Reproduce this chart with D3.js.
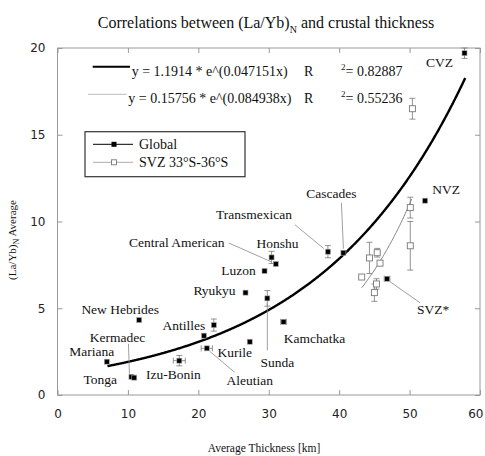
<!DOCTYPE html>
<html><head><meta charset="utf-8">
<script src="https://cdn.jsdelivr.net/npm/d3@7"></script>
<style>body{margin:0;background:#fff}</style>
</head><body>
<svg id="chart" width="485" height="456"></svg>
<script>
// ---- data ----
const globalNames = ["CVZ","NVZ","Transmexican","Cascades","Honshu","Central American","Luzon","Ryukyu","Sunda","Kamchatka","Antilles","","Kurile","Aleutian","New Hebrides","Izu-Bonin","Mariana","Kermadec","Tonga","SVZ*"];
const globalX = [57.8,52.2,38.4,40.6,30.4,31.0,29.4,26.7,29.8,32.1,22.2,20.8,27.3,21.2,11.6,17.3,7.0,10.5,10.9,46.8];
const globalY = [19.7,11.2,8.26,8.2,7.93,7.55,7.15,5.9,5.57,4.22,4.03,3.42,3.07,2.69,4.32,1.98,1.92,1.05,1.0,6.7];
const globalYErr = [0.3,0,0.35,0,0.35,0,0,0,0.45,0,0.35,0,0,0,0,0.3,0,0,0,0];
const globalXErr = [0,0,0,0,0,0,0,0,0,0.4,0,0,0,0.8,0,0.85,0,0,0,0.4];
const svzX = [50.4,50.1,50.1,44.3,45.4,45.8,43.2,45.3,45.0];
const svzY = [16.5,10.8,8.6,7.9,8.2,7.6,6.8,6.4,5.9];
const svzYErr = [0.6,0.6,1.4,0.9,0.25,0,0,0.3,0.5];
const fitGlobal = {a:1.1914, b:0.047151, from:7.1, to:57.9};
const fitSvz = {a:0.15756, b:0.084938, from:43.2, to:50.35};
const equations = ["y = 1.1914 * e^(0.047151x)","y = 0.15756 * e^(0.084938x)"];
const r2 = ["= 0.82887","= 0.55236"];
const xTicks = [0,10,20,30,40,50,60];
const yTicks = [0,5,10,15,20];
const legendNames = ["Global","SVZ 33°S-36°S"];
// label layout (pixel offsets from point): [dx,dy, leader x1,y1,x2,y2]
const labelLayout = [
 [-25,9],[21,-11],[-74,-37,-33,-27,-4,-3],[-12,-59,-2,-50,0,-4],[6,-14],[-99,-22,-47,-21,-4,-2],
 [-26,-1],[-31,-2],[10,64,0,5,0,52],[31,16],[-30,0],[0,0],[-15,11],[43,32,3,3,28,24],
 [-19,-11],[-6,14],[-15,-10],[-14,-40,-3,-33,-2,-3],[-34,2],[46,31,3,3,33,24]
];

// ---- chart ----
const svg = d3.select("#chart");
const L=57.5, R=480, T=48, B=395;
const x = d3.scaleLinear().domain([0,60]).range([L,R]);
const y = d3.scaleLinear().domain([0,20]).range([B,T]);
const serif = "'Liberation Serif','Times New Roman',serif";
const sans = "'DejaVu Sans',Tahoma,sans-serif";

// title
const title = svg.append("text").attr("x",266).attr("y",28).attr("text-anchor","middle")
  .attr("font-family",serif).attr("font-size",16).attr("fill","#111");
title.append("tspan").text("Correlations between (La/Yb)");
title.append("tspan").attr("font-size",10).attr("dy",5).text("N");
title.append("tspan").attr("dy",-5).text(" and crustal thickness");

// frame
svg.append("rect").attr("x",L).attr("y",T).attr("width",R-L).attr("height",B-T)
  .attr("fill","none").attr("stroke","#999").attr("stroke-width",1);

// axes
svg.append("g").attr("transform",`translate(0,${B})`)
  .call(d3.axisBottom(x).tickValues(xTicks).tickSize(-5).tickPadding(14).tickFormat(d3.format("d")));
svg.append("g").attr("transform",`translate(${L},0)`)
  .call(d3.axisLeft(y).tickValues(yTicks).tickSize(-5).tickPadding(12).tickFormat(d3.format("d")));
svg.append("g").attr("transform",`translate(0,${T})`)
  .call(d3.axisTop(x).tickValues(xTicks).tickSize(-5).tickFormat(""));
svg.append("g").attr("transform",`translate(${R},0)`)
  .call(d3.axisRight(y).tickValues(yTicks).tickSize(-5).tickFormat(""));
svg.selectAll(".domain").remove();
svg.selectAll(".tick line").attr("stroke","#999");
svg.selectAll(".tick text").attr("font-family",sans).attr("font-size",12).attr("fill","#222");
// keep the last x tick label inside the page
svg.selectAll(".tick text").filter(d=>d===60).attr("text-anchor","end").attr("dx",3);

// axis titles
svg.append("text").attr("x",264).attr("y",452).attr("text-anchor","middle")
  .attr("font-family",serif).attr("font-size",11.5).attr("fill","#111").text("Average Thickness [km]");
const yl = svg.append("text").attr("transform","translate(16,240) rotate(-90)").attr("text-anchor","middle")
  .attr("font-family",serif).attr("font-size",11).attr("fill","#111");
yl.append("tspan").text("(La/Yb)");
yl.append("tspan").attr("font-size",8).attr("dy",3).text("N");
yl.append("tspan").attr("dy",-3).text(" Average");

// fit curves
function curve(f){ return d3.range(f.from, f.to+0.001, 0.1).map(v=>[v, f.a*Math.exp(f.b*v)]); }
const line = d3.line().x(d=>x(d[0])).y(d=>y(d[1]));
svg.append("path").attr("d",line(curve(fitGlobal))).attr("fill","none").attr("stroke","#000").attr("stroke-width",2.4);
svg.append("path").attr("d",line(curve(fitSvz))).attr("fill","none").attr("stroke","#777").attr("stroke-width",0.9);

// error bars
const gE = svg.append("g").attr("stroke","#777").attr("stroke-width",0.8);
svzX.forEach((v,i)=>{ if(svzYErr[i]>0){
  gE.append("line").attr("x1",x(v)).attr("x2",x(v)).attr("y1",y(svzY[i]-svzYErr[i])).attr("y2",y(svzY[i]+svzYErr[i]));
  [svzY[i]-svzYErr[i], svzY[i]+svzYErr[i]].forEach(e=>gE.append("line").attr("x1",x(v)-3).attr("x2",x(v)+3).attr("y1",y(e)).attr("y2",y(e)));
}});
globalX.forEach((v,i)=>{
  const ey=globalYErr[i], ex=globalXErr[i];
  if(ey>0){
    gE.append("line").attr("x1",x(v)).attr("x2",x(v)).attr("y1",y(globalY[i]-ey)).attr("y2",y(globalY[i]+ey));
    [globalY[i]-ey, globalY[i]+ey].forEach(e=>gE.append("line").attr("x1",x(v)-3).attr("x2",x(v)+3).attr("y1",y(e)).attr("y2",y(e)));
  }
  if(ex>0){
    gE.append("line").attr("y1",y(globalY[i])).attr("y2",y(globalY[i])).attr("x1",x(v-ex)).attr("x2",x(v+ex));
    [v-ex, v+ex].forEach(e=>gE.append("line").attr("y1",y(globalY[i])-3).attr("y2",y(globalY[i])+3).attr("x1",x(e)).attr("x2",x(e)));
  }
});

// leaders
const gL = svg.append("g").attr("stroke","#888").attr("stroke-width",0.8);
globalX.forEach((v,i)=>{
  const l = labelLayout[i]; if(l.length>2){
    const px=x(v), py=y(globalY[i]);
    gL.append("line").attr("x1",px+l[2]).attr("y1",py+l[3]).attr("x2",px+l[4]).attr("y2",py+l[5]);
  }
});

// SVZ open squares
svg.append("g").selectAll("rect").data(svzX).join("rect")
  .attr("x",(d)=>x(d)-3).attr("y",(d,i)=>y(svzY[i])-3).attr("width",6).attr("height",6)
  .attr("fill","#fff").attr("stroke","#777").attr("stroke-width",0.9);
// global filled squares
svg.append("g").selectAll("rect").data(globalX).join("rect")
  .attr("x",(d)=>x(d)-2.5).attr("y",(d,i)=>y(globalY[i])-2.5).attr("width",5).attr("height",5)
  .attr("fill","#000").attr("stroke","#aaa").attr("stroke-width",0.6);

// point labels
const gT = svg.append("g").attr("font-family",serif).attr("font-size",13.5).attr("fill","#111").attr("text-anchor","middle");
globalX.forEach((v,i)=>{
  if(!globalNames[i]) return;
  const l = labelLayout[i];
  gT.append("text").attr("x",x(v)+l[0]).attr("y",y(globalY[i])+l[1]).attr("dy","0.35em").text(globalNames[i]);
});

// equation legend
const gq = svg.append("g").attr("font-family",serif).attr("font-size",14).attr("fill","#111");
[[66.7,"#000",2],[94.3,"#aaa",0.8]].forEach((s,i)=>{
  gq.append("line").attr("x1",i?88:92.7).attr("x2",i?126.7:130).attr("y1",s[0]).attr("y2",s[0]).attr("stroke",s[1]).attr("stroke-width",s[2]);
  gq.append("text").attr("x",i?128.3:131.7).attr("y",s[0]+9).text(equations[i]);
  gq.append("text").attr("x",304).attr("y",s[0]+9).text("R");
  const t = gq.append("text").attr("x",341).attr("y",s[0]+9);
  t.append("tspan").attr("font-size",9).attr("dy",-6).text("2");
  t.append("tspan").attr("dy",6).text("= " + r2[i].slice(2));
});

// series legend
const gl = svg.append("g");
gl.append("rect").attr("x",85).attr("y",131.7).attr("width",160).attr("height",45)
  .attr("fill","#fff").attr("stroke","#333").attr("stroke-width",1.2);
gl.append("line").attr("x1",93).attr("x2",133).attr("y1",144.3).attr("y2",144.3).attr("stroke","#000").attr("stroke-width",1);
gl.append("rect").attr("x",111.5).attr("y",141.8).attr("width",5).attr("height",5).attr("fill","#000");
gl.append("line").attr("x1",93).attr("x2",133).attr("y1",162.3).attr("y2",162.3).attr("stroke","#aaa").attr("stroke-width",1);
gl.append("rect").attr("x",111.5).attr("y",159.8).attr("width",5).attr("height",5).attr("fill","#fff").attr("stroke","#777").attr("stroke-width",0.9);
legendNames.forEach((n,i)=>gl.append("text").attr("x",139).attr("y",144.3+i*18).attr("dy","0.35em")
  .attr("font-family",serif).attr("font-size",14).attr("fill","#111").text(n));
</script>
</body></html>
